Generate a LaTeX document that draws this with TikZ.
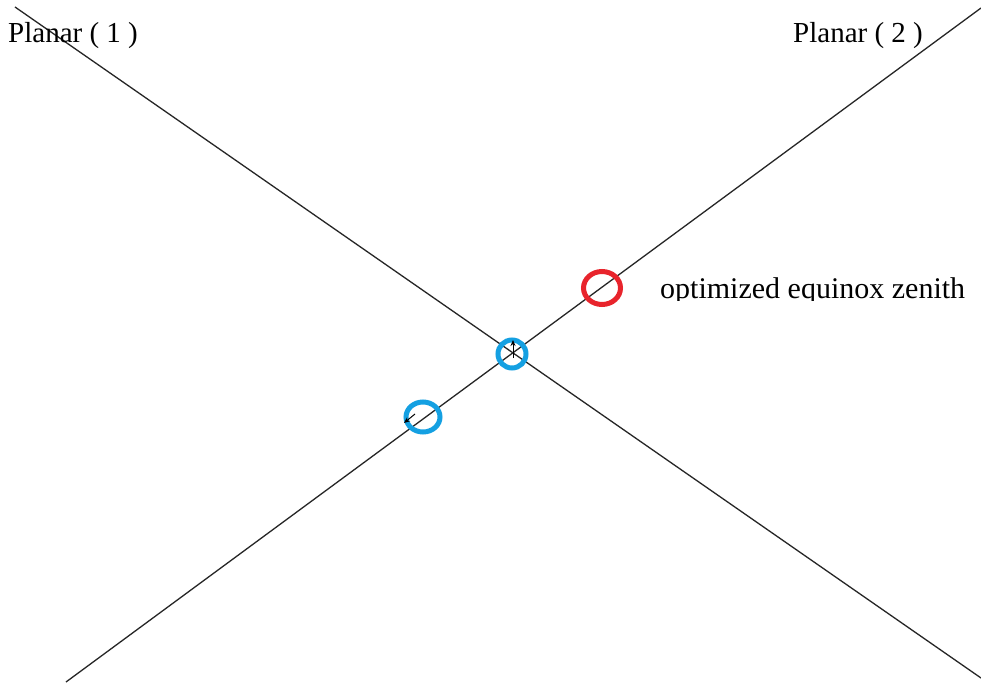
\documentclass[tikz,border=0pt]{standalone}
\usepackage{fontspec}
\setmainfont{Liberation Serif}
\usetikzlibrary{arrows.meta,shapes.geometric}
\definecolor{ringred}{RGB}{232,36,44}
\definecolor{ringblue}{RGB}{20,160,226}
\tikzset{
  axisline/.style={black!85, line width=1.3pt},
  ring/.style={line width=5pt},
  lbl/.style={font=\fontsize{29}{31}\selectfont, inner sep=0pt, anchor=base west},
  tick/.style={black, line width=1pt, -{Stealth[length=6pt,width=5pt]}}
}
\begin{document}
\begin{tikzpicture}[x=1pt,y=-1pt]
\useasboundingbox (0,0) rectangle (981,682);
\fill[white] (0,0) rectangle (981,682);
% line ends
\coordinate (a1) at (15,7);
\coordinate (a2) at (981,678);
\coordinate (b1) at (66,682);
\coordinate (b2) at (981,8);
\draw[axisline] (a1) -- (a2);
\draw[axisline] (b1) -- (b2);
% labels
\node[lbl] (p1) at (8,43) {Planar ( 1 )};
\node[lbl] (p2) at (793,43) {Planar ( 2 )};
\begin{scope}
\clip (640,260) rectangle (981,300.5);
\node[lbl, font=\fontsize{30}{32}\selectfont] (oez) at (660,298) {optimized equinox zenith};
\end{scope}
% rings
\node[draw=ringred, ring, ellipse, minimum width=37pt, minimum height=33pt, inner sep=0pt] (red) at (602,288) {};
\node[draw=ringblue, ring, circle, minimum size=28pt, inner sep=0pt] (cen) at (512,354) {};
\node[draw=ringblue, ring, ellipse, minimum width=34pt, minimum height=30pt, inner sep=0pt] (low) at (423,417) {};
% small markers
\coordinate (c0) at (513,358);
\coordinate (c1) at (513,340);
\draw[tick] (c0) -- (c1);
\coordinate (d0) at (415,414);
\coordinate (d1) at (404,423);
\draw[tick] (d0) -- (d1);
\end{tikzpicture}
\end{document}
